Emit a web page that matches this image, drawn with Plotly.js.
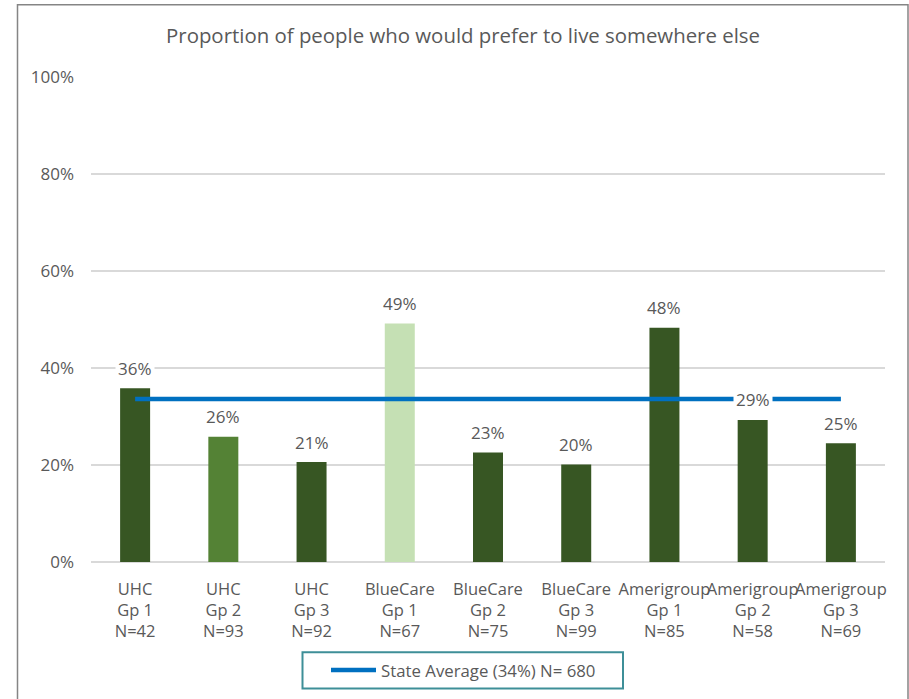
<!DOCTYPE html>
<html>
<head>
<meta charset="utf-8">
<script src="https://cdn.plot.ly/plotly-3.0.1.min.js"></script>
<style>
  html, body { margin: 0; padding: 0; background: #ffffff; }
  #chart { width: 909px; height: 699px; }
</style>
</head>
<body>
<div id="chart"></div>
<script>
// ---- data ----
const providers = ["UHC", "UHC", "UHC", "BlueCare", "BlueCare", "BlueCare", "Amerigroup", "Amerigroup", "Amerigroup"];
const groups = ["Gp 1", "Gp 2", "Gp 3", "Gp 1", "Gp 2", "Gp 3", "Gp 1", "Gp 2", "Gp 3"];
const sampleSizes = [42, 93, 92, 67, 75, 99, 85, 58, 69];
const percentValues = [35.8, 25.8, 20.6, 49.2, 22.6, 20.1, 48.3, 29.3, 24.5];
const percentLabels = ["36%", "26%", "21%", "49%", "23%", "20%", "48%", "29%", "25%"];
const barColors = ["#375623", "#548235", "#375623", "#C5E0B4", "#375623", "#375623", "#375623", "#375623", "#375623"];
const stateAverage = [33.6, 33.6, 33.6, 33.6, 33.6, 33.6, 33.6, 33.6, 33.6];
const stateAverageName = "State Average (34%) N= 680";
const yTickVals = [0, 20, 40, 60, 80, 100];
const yTickText = ["0%", "20%", "40%", "60%", "80%", "100%"];
const chartTitle = "Proportion of people who would prefer to live somewhere else";

// ---- layout geometry (pixels) ----
const W = 909, H = 699;
const mL = 91, mR = 24, mT = 77, mB = 135;
const pw = W - mL - mR, ph = H - mT - mB;
const px = x => (x - mL) / pw;           // pixel x -> paper x
const py = y => (H - mB - y) / ph;       // pixel y -> paper y

const categories = providers.map((p, i) => p + "<br>" + groups[i] + "<br>N=" + sampleSizes[i]);
const FONT = "'Open Sans', 'Noto Sans', sans-serif";
const GREY = "#595959";

const bars = {
  type: "bar",
  x: categories,
  y: percentValues,
  marker: { color: barColors },
  showlegend: false,
  hoverinfo: "skip"
};

const avgLine = {
  type: "scatter",
  mode: "lines",
  x: categories,
  y: stateAverage,
  name: stateAverageName,
  line: { color: "#0070C0", width: 4.5 },
  showlegend: true,
  hoverinfo: "skip"
};

const annotations = percentValues.map((v, i) => ({
  x: i,
  y: v,
  xref: "x",
  yref: "y",
  text: percentLabels[i],
  showarrow: false,
  yanchor: "middle",
  yshift: 20,
  bgcolor: "#ffffff",
  borderpad: 2,
  font: { family: FONT, size: 17, color: GREY }
}));

const layout = {
  width: W,
  height: H,
  paper_bgcolor: "#ffffff",
  plot_bgcolor: "#ffffff",
  margin: { l: mL, r: mR, t: mT, b: mB, pad: 0 },
  title: {
    text: chartTitle,
    font: { family: FONT, size: 20.4, color: GREY },
    x: px(463),
    xref: "paper",
    xanchor: "center",
    y: 1 - 36 / H,
    yanchor: "middle"
  },
  bargap: 0.66,
  xaxis: {
    type: "category",
    tickangle: 0,
    tickfont: { family: FONT, size: 16.5, color: GREY },
    showgrid: false,
    showline: false,
    ticks: "",
    ticklabelstandoff: 15,
    fixedrange: true
  },
  yaxis: {
    range: [0, 100],
    tickvals: yTickVals,
    ticktext: yTickText,
    tickfont: { family: FONT, size: 17, color: GREY },
    showgrid: true,
    gridcolor: "#D9D9D9",
    gridwidth: 1.5,
    zeroline: true,
    zerolinecolor: "#D9D9D9",
    zerolinewidth: 1.5,
    showline: false,
    ticks: "",
    ticklabelstandoff: 16,
    fixedrange: true
  },
  showlegend: true,
  legend: {
    orientation: "h",
    x: px(326),
    xanchor: "left",
    y: py(672.5),
    yanchor: "middle",
    itemwidth: 45,
    font: { family: FONT, size: 16.8, color: GREY },
    bgcolor: "rgba(0,0,0,0)",
    borderwidth: 0
  },
  annotations: annotations,
  shapes: [
    {
      type: "rect", xref: "paper", yref: "paper", layer: "above",
      x0: px(17.5), x1: px(908), y0: py(760), y1: py(4.5),
      line: { color: "#858585", width: 1.5 }, fillcolor: "rgba(0,0,0,0)"
    },
    {
      type: "rect", xref: "paper", yref: "paper", layer: "above",
      x0: px(302.5), x1: px(623), y0: py(691), y1: py(654.5),
      line: { color: "#3E8F98", width: 2 }, fillcolor: "rgba(0,0,0,0)"
    }
  ]
};

Plotly.newPlot("chart", [bars, avgLine], layout, { displayModeBar: false, staticPlot: true });
</script>
</body>
</html>
